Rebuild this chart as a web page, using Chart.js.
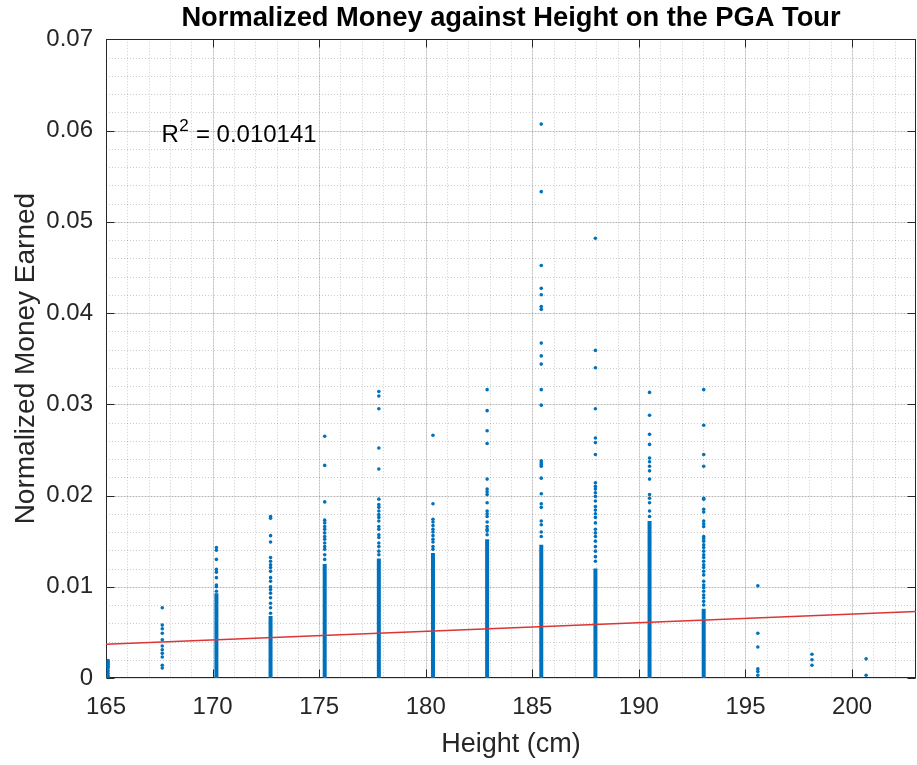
<!DOCTYPE html>
<html>
<head>
<meta charset="utf-8">
<title>Normalized Money against Height on the PGA Tour</title>
<script src="https://cdn.jsdelivr.net/npm/chart.js@4.4.0/dist/chart.umd.min.js"></script>
<style>
  html, body { margin: 0; padding: 0; background: #fff; }
  #wrap { width: 917px; height: 765px; }
</style>
</head>
<body>
<div id="wrap"><canvas id="chart" width="917" height="765"></canvas></div>
<script>
// heights are inches converted to cm (65in .. 79in)
const heights = [165.1, 167.64, 170.18, 172.72, 175.26, 177.8, 180.34, 182.88,
  185.42, 187.96, 190.5, 193.04, 195.58, 198.12, 200.66];

// separate dots (normalized money)
const money165 = [0.0019, 0.0017, 0.0015, 0.0013, 0.0011, 0.0008, 0.0005, 0.0002, 0.0];
const money168 = [0.0077, 0.0058, 0.0054, 0.0049, 0.0042, 0.0035, 0.0031, 0.0027, 0.0023, 0.0014, 0.0011];
const money170 = [0.0143, 0.0140, 0.0130, 0.0119, 0.0116, 0.0110, 0.0102, 0.0100, 0.0095];
const money173 = [0.0177, 0.0175, 0.0156, 0.0149, 0.0132, 0.0128, 0.0124, 0.0121, 0.0117,
  0.0110, 0.0106, 0.0100, 0.0097, 0.0093, 0.0088, 0.0082, 0.0077, 0.0071];
const money175 = [0.0265, 0.0233, 0.0193, 0.0173, 0.0170, 0.0166, 0.0163, 0.0159, 0.0155,
  0.0152, 0.0148, 0.0144, 0.0141, 0.0135, 0.0130];
const money178 = [0.0314, 0.0309, 0.0295, 0.0252, 0.0229, 0.0196, 0.0190, 0.0187, 0.0183,
  0.0179, 0.0176, 0.0172, 0.0166, 0.0163, 0.0157, 0.0154, 0.0148, 0.0144, 0.0139, 0.0135];
const money180 = [0.0266, 0.0191, 0.0174, 0.0171, 0.0167, 0.0163, 0.0160, 0.0156, 0.0152,
  0.0149, 0.0144, 0.0141];
const money183 = [0.0316, 0.0293, 0.0271, 0.0257, 0.0218, 0.0207, 0.0204, 0.0201, 0.0192,
  0.0183, 0.0180, 0.0177, 0.0171, 0.0166, 0.0163, 0.0161, 0.0157];
const money185 = [0.0607, 0.0533, 0.0452, 0.0427, 0.0420, 0.0407, 0.0404, 0.0367, 0.0353,
  0.0344, 0.0316, 0.0299, 0.0238, 0.0236, 0.0234, 0.0232, 0.0219, 0.0202, 0.0191, 0.0187,
  0.0172, 0.0168, 0.0160, 0.0155];
const money188 = [0.0482, 0.0359, 0.0340, 0.0295, 0.0263, 0.0258, 0.0245, 0.0214, 0.0210,
  0.0207, 0.0203, 0.0199, 0.0194, 0.0188, 0.0184, 0.0180, 0.0176, 0.0170, 0.0163, 0.0159,
  0.0155, 0.0150, 0.0144, 0.0139, 0.0133, 0.0128];
const money191 = [0.0313, 0.0288, 0.0267, 0.0256, 0.0241, 0.0237, 0.0232, 0.0227, 0.0218,
  0.0201, 0.0197, 0.0192, 0.0183, 0.0177];
const money193 = [0.0316, 0.0277, 0.0245, 0.0232, 0.0197, 0.0196, 0.0185, 0.0182, 0.0172,
  0.0169, 0.0166, 0.0155, 0.0153, 0.0150, 0.0146, 0.0143, 0.0139, 0.0135, 0.0132, 0.0128,
  0.0124, 0.0121, 0.0117, 0.0113, 0.0106, 0.0102, 0.0099, 0.0095, 0.0091, 0.0088, 0.0084, 0.0080];
const money196 = [0.0101, 0.0049, 0.0034, 0.0010, 0.0007, 0.0003];
const money198 = [0.0026, 0.0020, 0.0014];
const money201 = [0.0021, 0.0003];

// top of the solid run of overlapping dots in each column (runs down to 0); null = no run
const denseTop = [null, null, 0.0093, 0.0068, 0.0125, 0.0131, 0.0137, 0.0152,
  0.0146, 0.0120, 0.0172, 0.0076, null, null, null];

// least squares fit, end points at the x limits
const fitX = [165, 203];
const fitY = [0.0037, 0.0073];
const rSquared = "0.010141";

const xTicks = [165, 170, 175, 180, 185, 190, 195, 200];
const yTicks = [0, 0.01, 0.02, 0.03, 0.04, 0.05, 0.06, 0.07];
const yTickLabels = ["0", "0.01", "0.02", "0.03", "0.04", "0.05", "0.06", "0.07"];

const columns = [money165, money168, money170, money173, money175, money178, money180,
  money183, money185, money188, money191, money193, money196, money198, money201];

const BLUE = "#0072BD";
const AXIS = "#262626";
const FONT = '"Liberation Sans", Arial, Helvetica, sans-serif';

const X_MIN = 165, X_MAX = 203, Y_MIN = 0, Y_MAX = 0.07;
const X_MINOR = 1, Y_MINOR = 0.002;
const TICK_LEN = 8;

const dots = [];
columns.forEach((vals, i) => vals.forEach((v) => dots.push({ x: heights[i], y: v })));

const bandSets = [];
denseTop.forEach((top, i) => {
  if (top == null) return;
  bandSets.push({
    type: "line",
    data: [{ x: heights[i], y: 0 }, { x: heights[i], y: top }],
    borderColor: BLUE,
    borderWidth: 4,
    pointRadius: 0,
    order: 3,
  });
});

// MATLAB style grid (major solid, minor dotted) + box with inward ticks
const matlabAxes = {
  id: "matlabAxes",
  beforeDatasetsDraw(chart) {
    const { ctx, chartArea: a, scales: { x, y } } = chart;
    ctx.save();
    ctx.lineWidth = 1;
    ctx.strokeStyle = "rgba(0,0,0,0.2)";
    ctx.setLineDash([1, 2]);
    for (let v = X_MIN + X_MINOR; v < X_MAX - 1e-9; v += X_MINOR) {
      const px = Math.round(x.getPixelForValue(v)) + 0.5;
      ctx.beginPath(); ctx.moveTo(px, a.top); ctx.lineTo(px, a.bottom); ctx.stroke();
    }
    for (let v = Y_MIN + Y_MINOR; v < Y_MAX - 1e-9; v += Y_MINOR) {
      const py = Math.round(y.getPixelForValue(v)) + 0.5;
      ctx.beginPath(); ctx.moveTo(a.left, py); ctx.lineTo(a.right, py); ctx.stroke();
    }
    ctx.setLineDash([]);
    ctx.strokeStyle = "rgba(38,38,38,0.15)";
    xTicks.forEach((v) => {
      const px = Math.round(x.getPixelForValue(v)) + 0.5;
      ctx.beginPath(); ctx.moveTo(px, a.top); ctx.lineTo(px, a.bottom); ctx.stroke();
    });
    yTicks.forEach((v) => {
      const py = Math.round(y.getPixelForValue(v)) + 0.5;
      ctx.beginPath(); ctx.moveTo(a.left, py); ctx.lineTo(a.right, py); ctx.stroke();
    });
    // box
    ctx.strokeStyle = AXIS;
    const l = Math.round(a.left) + 0.5, r = Math.round(a.right) - 0.5;
    const t = Math.round(a.top) + 0.5, b = Math.round(a.bottom) - 0.5;
    ctx.strokeRect(l, t, r - l, b - t);
    ctx.beginPath();
    xTicks.forEach((v) => {
      const px = Math.round(x.getPixelForValue(v)) + 0.5;
      ctx.moveTo(px, b); ctx.lineTo(px, b - TICK_LEN);
      ctx.moveTo(px, t); ctx.lineTo(px, t + TICK_LEN);
    });
    yTicks.forEach((v) => {
      const py = Math.round(y.getPixelForValue(v)) + 0.5;
      ctx.moveTo(l, py); ctx.lineTo(l + TICK_LEN, py);
      ctx.moveTo(r, py); ctx.lineTo(r - TICK_LEN, py);
    });
    ctx.stroke();
    ctx.restore();
  },
  afterDatasetsDraw(chart) {
    // "R^2 = ..." text placed in data units
    const { ctx, scales: { x, y } } = chart;
    const px = x.getPixelForValue(167.6);
    const py = y.getPixelForValue(0.0587);
    ctx.save();
    ctx.fillStyle = "#000";
    ctx.textBaseline = "alphabetic";
    ctx.textAlign = "left";
    ctx.font = "24px " + FONT;
    ctx.fillText("R", px, py);
    let w = ctx.measureText("R").width;
    ctx.font = "17px " + FONT;
    ctx.fillText("2", px + w + 0.5, py - 11);
    w += ctx.measureText("2").width + 1;
    ctx.font = "24px " + FONT;
    ctx.fillText(" = " + rSquared, px + w, py);
    ctx.restore();
  },
};

new Chart(document.getElementById("chart"), {
  type: "scatter",
  data: {
    datasets: [
      {
        label: "players",
        data: dots,
        backgroundColor: BLUE,
        borderWidth: 0,
        pointRadius: 1.8,
        order: 2,
      },
      ...bandSets,
      {
        type: "line",
        label: "fit",
        data: fitX.map((v, i) => ({ x: v, y: fitY[i] })),
        borderColor: "#dc3535",
        borderWidth: 1.5,
        pointRadius: 0,
        order: 1,
      },
    ],
  },
  options: {
    responsive: false,
    animation: false,
    events: [],
    layout: { autoPadding: false, padding: { left: 0, right: 1, top: 0, bottom: 0 } },
    plugins: {
      legend: { display: false },
      tooltip: { enabled: false },
      title: {
        display: true,
        fullSize: false,
        text: "Normalized Money against Height on the PGA Tour",
        color: "#000",
        font: { family: FONT, size: 27.3, weight: "bold", lineHeight: 1.2 },
        padding: { top: 2, bottom: 4.5 },
      },
    },
    scales: {
      x: {
        type: "linear",
        min: X_MIN,
        max: X_MAX,
        grid: { display: false },
        border: { display: false },
        afterBuildTicks: (axis) => { axis.ticks = xTicks.map((v) => ({ value: v })); },
        afterFit: (axis) => { axis.height = 87; axis.paddingLeft = 0; axis.paddingRight = 0; },
        ticks: {
          color: AXIS,
          padding: 7,
          maxRotation: 0,
          autoSkip: false,
          font: { family: FONT, size: 24 },
          callback: (v) => String(v),
        },
        title: {
          display: true,
          text: "Height (cm)",
          color: AXIS,
          font: { family: FONT, size: 27, lineHeight: 1.2 },
          padding: { top: 0, bottom: 4 },
        },
      },
      y: {
        type: "linear",
        min: Y_MIN,
        max: Y_MAX,
        grid: { display: false },
        border: { display: false },
        afterBuildTicks: (axis) => { axis.ticks = yTicks.map((v) => ({ value: v })); },
        afterFit: (axis) => { axis.width = 106; axis.paddingTop = 0; axis.paddingBottom = 0; },
        ticks: {
          color: AXIS,
          padding: 5,
          autoSkip: false,
          font: { family: FONT, size: 24 },
          callback: (v) => yTickLabels[yTicks.findIndex((t) => Math.abs(t - v) < 1e-9)],
        },
        title: {
          display: true,
          text: "Normalized Money Earned",
          color: AXIS,
          font: { family: FONT, size: 28, lineHeight: 1.2 },
          padding: { top: 9, bottom: 0 },
        },
      },
    },
  },
  plugins: [matlabAxes],
});
</script>
</body>
</html>
